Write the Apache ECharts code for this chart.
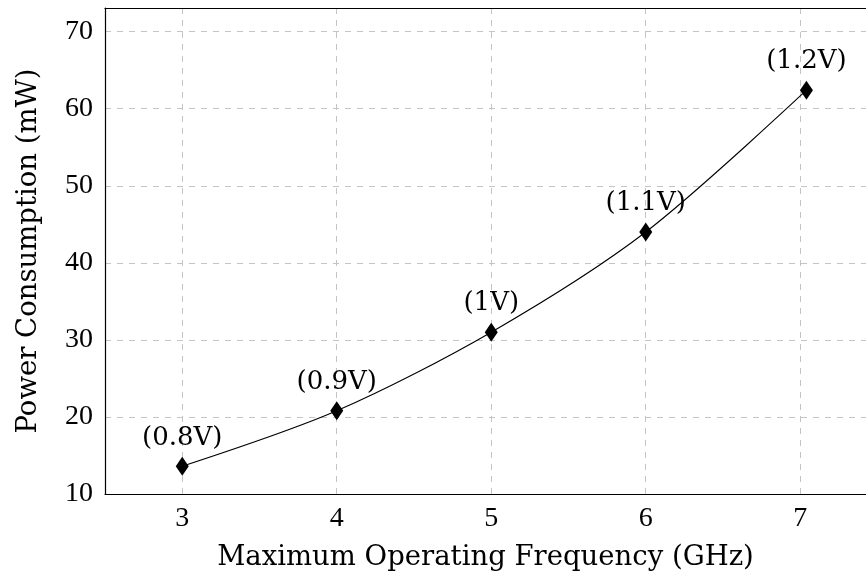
<!DOCTYPE html>
<html>
<head>
<meta charset="utf-8">
<script src="https://cdn.jsdelivr.net/npm/echarts@6/dist/echarts.min.js"></script>
<style>
  html, body { margin: 0; padding: 0; background: #fff; }
  #chart { width: 866px; height: 581px; }
</style>
</head>
<body>
<div id="chart"></div>
<script>
// Frequency (GHz), power (mW) and supply voltage for each operating point
const frequencies = [3, 4, 5, 6, 7.04];
const powers = [13.6, 20.8, 31, 44, 62.4];
const voltages = ['(0.8V)', '(0.9V)', '(1V)', '(1.1V)', '(1.2V)'];

const points = frequencies.map((f, i) => ({ value: [f, powers[i]], label: { formatter: voltages[i] } }));

const serifText = '"DejaVu Serif", "Liberation Serif", serif';
const tickFont = '"Liberation Serif", "DejaVu Serif", serif';
const gridLine = { show: true, lineStyle: { color: '#c4c4c4', type: [6, 6], width: 1 } };
const blackLine = { show: true, lineStyle: { color: '#000', width: 1.2 } };

// x range runs past the right edge of the canvas
const xMin = 2.5, xMax = 7.4256;

const chart = echarts.init(document.getElementById('chart'));
chart.setOption({
  animation: false,
  backgroundColor: '#fff',
  grid: { left: 105, top: 8, right: 0, bottom: 87 },
  xAxis: [{
    type: 'value', min: xMin, max: xMax, splitNumber: 5,
    name: 'Maximum Operating Frequency (GHz)',
    nameLocation: 'middle', nameGap: 50,
    nameTextStyle: { fontFamily: serifText, fontSize: 27.5, color: '#000' },
    axisLine: blackLine,
    axisTick: { show: false },
    axisLabel: {
      margin: 11, fontFamily: tickFont, fontSize: 28, color: '#000',
      showMinLabel: false, showMaxLabel: false,
      formatter: v => (Number.isInteger(v) ? String(v) : '')
    },
    splitLine: gridLine
  }, {
    type: 'value', min: xMin, max: xMax, position: 'top',
    axisLine: blackLine,
    axisTick: { show: false },
    axisLabel: { show: false },
    splitLine: { show: false }
  }],
  yAxis: {
    type: 'value', min: 10, max: 73.07, interval: 10,
    name: 'Power Consumption (mW)',
    nameLocation: 'middle', nameGap: 62,
    nameTextStyle: { fontFamily: serifText, fontSize: 27.5, color: '#000' },
    axisLine: blackLine,
    axisTick: { show: false },
    axisLabel: {
      margin: 12, fontFamily: tickFont, fontSize: 28, color: '#000',
      formatter: v => (v % 10 === 0 ? String(v) : '')
    },
    splitLine: gridLine
  },
  series: [{
    type: 'line',
    xAxisIndex: 0,
    data: points,
    smooth: 0.3,
    lineStyle: { color: '#000', width: 1.1 },
    symbol: 'diamond',
    symbolSize: [13, 19],
    itemStyle: { color: '#000' },
    label: {
      show: true, position: 'top', distance: 6,
      fontFamily: serifText, fontSize: 26, color: '#000'
    }
  }]
});
</script>
</body>
</html>
